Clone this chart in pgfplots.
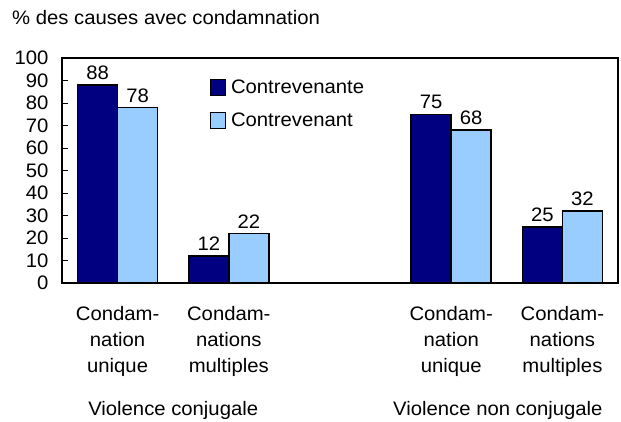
\documentclass[border=0pt]{standalone}
\usepackage{fontspec}
\setmainfont{Liberation Sans}[FakeStretch=1.04]
\usepackage{pgfplots}
\pgfplotsset{compat=1.18}
\definecolor{navybar}{RGB}{0,0,128}
\definecolor{lightbar}{RGB}{153,204,255}
\newcommand{\chfont}{\fontsize{19.5bp}{26bp}\selectfont}
\begin{document}
\begin{tikzpicture}[font=\chfont]
\useasboundingbox (0,0) rectangle (621bp,-422bp);
\begin{axis}[
 at={(62bp,-283bp)}, anchor=south west,
 scale only axis, width=556bp, height=225bp,
 xmin=-0.5, xmax=4.5, ymin=0, ymax=100,
 ytick={0,10,...,100}, ytick pos=left, tick align=inside, major tick length=6bp,
 xtick={0,1,3,4}, xtick style={draw=none},
 xticklabels={{Condam-\\nation\\unique},{Condam-\\nations\\multiples},{Condam-\\nation\\unique},{Condam-\\nations\\multiples}},
 tick label style={font=\chfont},
 xticklabel style={align=center, yshift=-14bp},
 yticklabel style={xshift=-10bp},
 /pgf/number format/assume math mode=true,
 axis line style={line width=1.1bp},
 tick style={line width=1bp, black},
 ybar, bar width=40bp,
 clip=false,
 nodes near coords,
 every node near coord/.append style={font=\chfont, black, yshift=1bp},
 legend style={draw=none, fill=none, font=\chfont, at={(axis cs:0.8,92)}, anchor=north west, row sep=14bp,
   /tikz/every odd column/.append style={column sep=3bp}},
 legend cell align=left,
 legend image code/.code={\draw[#1, line width=1.3bp] (0bp,-8bp) rectangle (15bp,8bp);},
]
\addplot[fill=navybar, draw=black, line width=1.5bp, bar shift=-20bp] coordinates {(0,88) (1,12) (3,75) (4,25)};
\addplot[fill=lightbar, draw=black, line width=1.5bp, bar shift=20bp] coordinates {(0,78) (1,22) (3,68) (4,32)};
\legend{Contrevenante, Contrevenant}
\node[anchor=base] at (axis cs:0.5,-58.7) {Violence conjugale};
\node[anchor=base] at (axis cs:3.42,-58.7) {Violence non conjugale};
\node[anchor=base west, inner sep=0pt] at (axis cs:-0.95,114.7) {\% des causes avec condamnation};
\end{axis}
\end{tikzpicture}
\end{document}
